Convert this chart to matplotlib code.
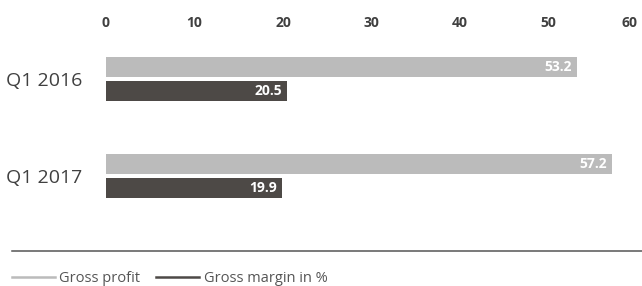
import matplotlib
matplotlib.use("Agg")
import matplotlib.pyplot as plt
from matplotlib.lines import Line2D

categories = ["Q1 2016", "Q1 2017"]
gross_profit = [53.2, 57.2]
gross_margin = [20.5, 19.9]
x_ticks = [0, 10, 20, 30, 40, 50, 60]

light = "#bbbbbb"
dark = "#4d4946"
txt = "#404040"

plt.rcParams['font.family'] = ['Open Sans', 'DejaVu Sans']

fig = plt.figure(figsize=(6.42, 2.86), dpi=100)
ax = fig.add_axes([106/642, 1 - 240/286, 531/642, 200/286])

pos = list(range(len(categories)))
off = 0.124
b1 = ax.barh([p - off for p in pos], gross_profit, height=0.206, color=light)
b2 = ax.barh([p + off for p in pos], gross_margin, height=0.206, color=dark)

for bars, vals in ((b1, gross_profit), (b2, gross_margin)):
    for b, v in zip(bars, vals):
        ax.text(v - 0.55, b.get_y() + b.get_height() / 2, f"{v:.1f}",
                ha="right", va="center", color="white", fontsize=10,
                fontweight="bold")

ax.set_xlim(0, 60)
ax.set_ylim(1.66, -0.402)
ax.xaxis.tick_top()
ax.set_xticks(x_ticks)
ax.set_xticklabels([str(t) for t in x_ticks], fontsize=10, fontweight="bold", color=txt)
ax.get_xticklabels()[-1].set_horizontalalignment("right")
ax.tick_params(axis="x", length=0, pad=7)
ax.set_yticks(pos)
ax.set_yticklabels(categories, fontsize=14, color=txt)
ax.tick_params(axis="y", length=0, pad=17)
for s in ax.spines.values():
    s.set_visible(False)

# separator line
fig.add_artist(Line2D([12/642, 1], [1 - 251/286] * 2, color="#555555", lw=1.1))

handles = [Line2D([], [], color=light, lw=1.8), Line2D([], [], color=dark, lw=1.8)]
fig.legend(handles, ["Gross profit", "Gross margin in %"], loc="center left",
           bbox_to_anchor=(12/642, 1 - 279/286), ncol=2, frameon=False, fontsize=10.5,
           handlelength=2.95, handletextpad=0.3, columnspacing=1.1,
           labelcolor="#555555", borderaxespad=0, borderpad=0)

fig.savefig("out.png", dpi=100)
